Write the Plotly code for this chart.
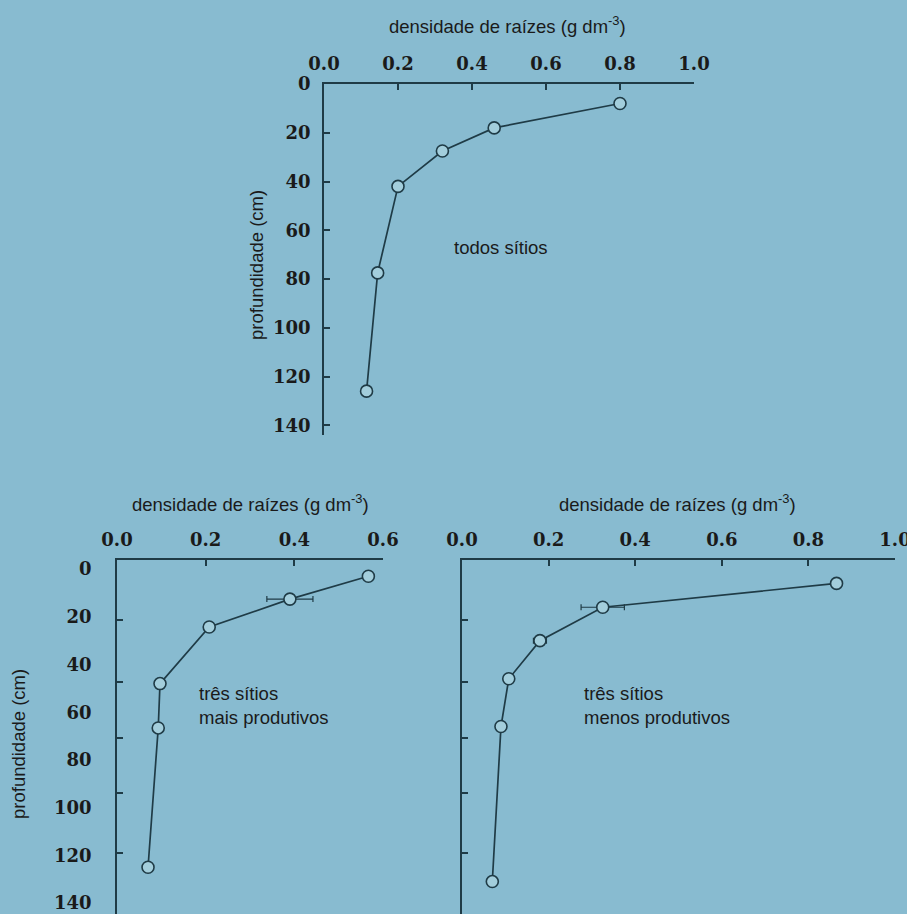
import plotly.graph_objects as go

# ---- data ----
depth_all = [8, 18, 27.5, 42, 77.5, 126]
dens_all = [0.80, 0.46, 0.32, 0.20, 0.145, 0.115]

depth_mais = [3, 12.6, 24.3, 48, 66.6, 125]
dens_mais = [0.567, 0.39, 0.208, 0.097, 0.093, 0.07]
err_mais = [0, 0.052, 0, 0, 0, 0]

depth_menos = [6, 16, 30, 46, 66, 131]
dens_menos = [0.865, 0.325, 0.18, 0.108, 0.09, 0.07]
err_menos = [0, 0.05, 0.015, 0, 0, 0]

xticks_top = [0.0, 0.2, 0.4, 0.6, 0.8, 1.0]
xticks_left = [0.0, 0.2, 0.4, 0.6]
xticks_right = [0.0, 0.2, 0.4, 0.6, 0.8, 1.0]
yticks = [0, 20, 40, 60, 80, 100, 120, 140]
ytickmarks_bottom = [21.5, 47.5, 71, 94, 119]

xtitle = "densidade de raízes (g dm<sup>-3</sup>)"
ytitle = "profundidade (cm)"

BG = "#88bbd0"
INK = "#1f3b46"
MFILL = "#a3cedc"
W, H = 907, 914

fig = go.Figure()

def add_series(x, y, xa, ya, err=None):
    kw = {}
    if err is not None:
        kw["error_x"] = dict(type="data", array=err, visible=True, color=INK,
                             thickness=1.2, width=3)
    fig.add_trace(go.Scatter(
        x=x, y=y, xaxis=xa, yaxis=ya, mode="lines+markers",
        line=dict(color=INK, width=1.7),
        marker=dict(symbol="circle", size=12, color=MFILL,
                    line=dict(color=INK, width=1.6)),
        showlegend=False, cliponaxis=False, **kw))

add_series(dens_all, depth_all, "x", "y")
add_series(dens_mais, depth_mais, "x2", "y2", err_mais)
add_series(dens_menos, depth_menos, "x3", "y3", err_menos)

tickfont = dict(family="DejaVu Serif", size=18, color="#1a1a1a", weight="bold")
sans = dict(family="Liberation Sans, Arial", size=18.5, color="#1a1a1a")

def px(v):
    return v / W

def py(v):
    return 1 - v / H

def xax(domain, rng, ticks, anchor):
    return dict(domain=domain, range=rng, side="top", anchor=anchor,
                automargin=False, ticklabeloverflow="allow",
                showline=True, linecolor=INK, linewidth=1.6,
                ticks="inside", ticklen=6, tickwidth=1.5, tickcolor=INK,
                tickvals=ticks, ticktext=[f"{t:.1f}" for t in ticks],
                tickfont=tickfont, showgrid=False, zeroline=False,
                ticklabelstandoff=5)

top_y_dom = [py(435), py(84)]
bot_y_dom = [0, py(560)]

fig.update_layout(
    width=W, height=H, autosize=False,
    margin=dict(l=0, r=0, t=0, b=0, pad=0, autoexpand=False),
    paper_bgcolor=BG, plot_bgcolor="rgba(0,0,0,0)",
    xaxis=xax([px(324), px(694)], [0, 1.0], xticks_top, "y"),
    xaxis2=xax([px(117), px(383)], [0, 0.6], xticks_left, "y2"),
    xaxis3=xax([px(462), px(895)], [0, 1.0], xticks_right, "y3"),
    yaxis=dict(domain=top_y_dom, range=[144, 0], anchor="x", automargin=False,
               showline=True, linecolor=INK, linewidth=1.6,
               ticks="inside", ticklen=6, tickwidth=1.5, tickcolor=INK,
               tickvals=yticks, tickfont=tickfont, showgrid=False,
               zeroline=False, ticklabelstandoff=8),
    yaxis2=dict(domain=bot_y_dom, range=[144.6, -3.8], anchor="x2",
                automargin=False, ticklabeloverflow="allow",
                showline=True, linecolor=INK, linewidth=1.6,
                ticks="", tickvals=yticks, tickfont=tickfont,
                showgrid=False, zeroline=False, ticklabelstandoff=20),
    yaxis4=dict(overlaying="y2", range=[144.6, -3.8], anchor="x2",
                automargin=False,
                showline=False, ticks="inside", ticklen=6, tickwidth=1.5,
                tickcolor=INK, tickvals=ytickmarks_bottom,
                showticklabels=False, showgrid=False, zeroline=False),
    yaxis3=dict(domain=bot_y_dom, range=[144.6, -3.8], anchor="x3",
                automargin=False,
                showline=True, linecolor=INK, linewidth=1.6,
                ticks="inside", ticklen=6, tickwidth=1.5, tickcolor=INK,
                tickvals=ytickmarks_bottom, showticklabels=False,
                showgrid=False, zeroline=False),
)

# invisible trace to activate yaxis4
fig.add_trace(go.Scatter(x=[None], y=[None], xaxis="x2", yaxis="y4",
                         showlegend=False, hoverinfo="skip"))

ann = [
    dict(text=xtitle, x=px(508), y=py(25)),
    dict(text=xtitle, x=px(250), y=py(503)),
    dict(text=xtitle, x=px(677), y=py(503)),
    dict(text=ytitle, x=px(256), y=py(265), textangle=-90),
    dict(text=ytitle, x=px(18), y=py(744), textangle=-90),
    dict(text="todos sítios", x=px(452), y=py(247), xanchor="left"),
    dict(text="três sítios<br>mais produtivos", x=px(197), y=py(705),
         xanchor="left", align="left"),
    dict(text="três sítios<br>menos produtivos", x=px(582), y=py(705),
         xanchor="left", align="left"),
]
for a in ann:
    a.setdefault("xanchor", "center")
    fig.add_annotation(xref="paper", yref="paper", showarrow=False,
                       yanchor="middle", font=sans, **a)

fig.write_html(
    "out.html",
    config={"displayModeBar": False},
    post_script="document.body.style.margin='0';document.body.style.overflow='hidden';",
)
